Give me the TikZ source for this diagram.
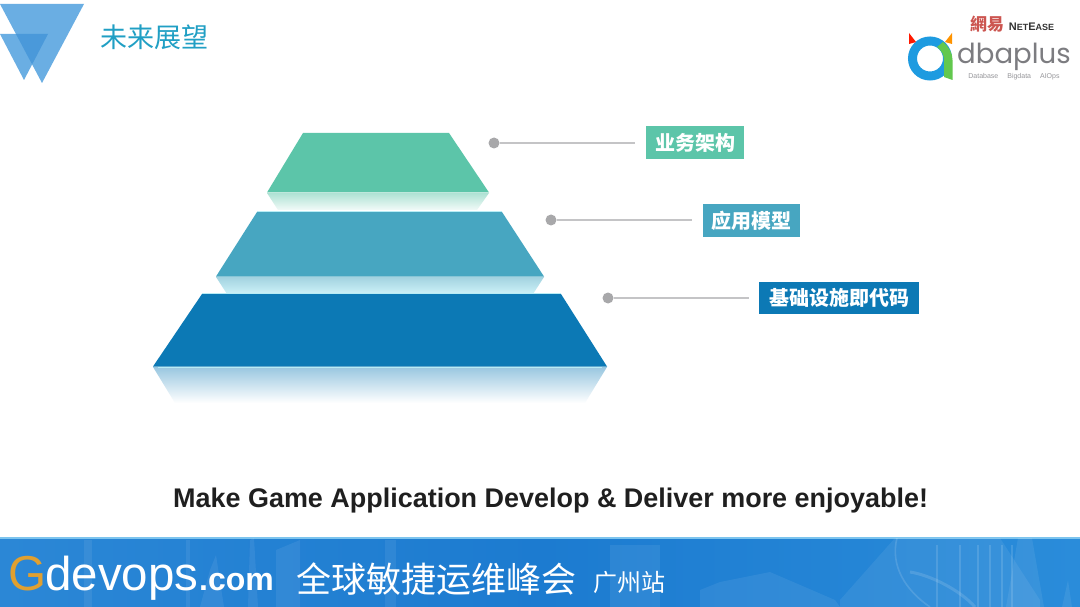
\documentclass[tikz,border=0pt]{standalone}
\usepackage{fontspec}
\setmainfont{Liberation Sans}
\newfontfamily\cjk{Noto Sans CJK SC}
\newfontfamily\cjktc{Noto Sans CJK TC}
\newfontfamily\popp{Poppins}
\definecolor{tealA}{HTML}{5CC5A9}
\definecolor{blueB}{HTML}{47A6C1}
\definecolor{blueC}{HTML}{0C79B5}
\definecolor{dotgrey}{HTML}{A8A8AA}
\definecolor{linegrey}{HTML}{C4C4C6}
\definecolor{triblue}{HTML}{6AAEE3}
\definecolor{trideep}{HTML}{4A99DA}
\definecolor{titlecol}{HTML}{209FC4}
\definecolor{bannerL}{HTML}{2B87D6}
\definecolor{bannerM}{HTML}{1C7BD0}
\definecolor{bannerR}{HTML}{2A8CDA}
\definecolor{bannerTop}{HTML}{7CC4EE}
\definecolor{glow}{HTML}{B8ECF5}
\definecolor{logoblue}{HTML}{1E9BE0}
\definecolor{logogreen}{HTML}{62C84E}
\definecolor{logogrey}{HTML}{7C7C80}
\definecolor{gold}{HTML}{E0A030}
\definecolor{wyred}{HTML}{CC5550}
\tikzset{
  tagbox/.style={minimum height=33pt,inner sep=0pt,text=white,font=\cjk\bfseries\fontsize{20}{20}\selectfont},
  dotnode/.style={circle,fill=dotgrey,minimum size=11pt,inner sep=0pt},
  leader/.style={draw=linegrey,line width=1.4pt},
  ghost/.style={fill=white,fill opacity=0.07,draw=none},
  ghostline/.style={draw=white,draw opacity=0.13,line width=1.6pt},
  glowline/.style={draw=glow,line width=1pt}
}
\begin{document}
\begin{tikzpicture}[x=1pt,y=-1pt]
\useasboundingbox (0,0) rectangle (1080,607);
\fill[white] (0,0) rectangle (1080,607);
% corner triangles
\fill[triblue] (0,4) -- (84,4) -- (42,83) -- cycle;
\fill[triblue] (0,34) -- (48,34) -- (24,80) -- cycle;
\begin{scope}
\clip (0,4) -- (84,4) -- (42,83) -- cycle;
\fill[trideep] (0,34) -- (48,34) -- (24,80) -- cycle;
\end{scope}
\node[anchor=center,text=titlecol,inner sep=0pt,font=\cjk\fontsize{27}{27}\selectfont] (title) at (154,37) {未来展望};
% pyramid reflections
\shade[top color=tealA!50!white,bottom color=tealA!8!white] (267,193) -- (489,193) -- (477,210) -- (278,210) -- cycle;
\shade[top color=blueB!50!white,bottom color=glow!70!white] (216,277) -- (544,277) -- (533,294) -- (227,294) -- cycle;
\shade[top color=blueC!42!white,bottom color=white] (153,367) -- (607,367) -- (585,403) -- (175,403) -- cycle;
% pyramid
\fill[tealA] (303,133) -- (449,133) -- (489,192.5) -- (267,192.5) -- cycle;
\fill[blueB] (257,212) -- (502,212) -- (544,276.5) -- (216,276.5) -- cycle;
\fill[blueC] (202,294) -- (561,294) -- (607,366.5) -- (153,366.5) -- cycle;
\draw[glowline] (257,211.5) -- (502,211.5);
\draw[glowline] (202,293.5) -- (561,293.5);
\draw[glowline] (158,367) -- (602,367);
% labels
\node[dotnode] (d1) at (494,143) {};
\node[dotnode] (d2) at (551,220) {};
\node[dotnode] (d3) at (608,298) {};
\node[tagbox,fill=tealA,minimum width=98pt] (t1) at (695,142.5) {业务架构};
\node[tagbox,fill=blueB,minimum width=97pt] (t2) at (751.5,220.5) {应用模型};
\node[tagbox,fill=blueC,minimum width=160pt,minimum height=32pt] (t3) at (839,298) {基础设施即代码};
\coordinate (e1) at (635,143);
\coordinate (e2) at (692,220);
\coordinate (e3) at (749,298);
\draw[leader] (d1) -- (e1);
\draw[leader] (d2) -- (e2);
\draw[leader] (d3) -- (e3);
% caption
\node[anchor=base west,inner sep=0pt,text=black!88,font=\bfseries\fontsize{26.95}{27}\selectfont] (cap) at (173,507) {Make Game Application Develop \& Deliver more enjoyable!};
% banner
\shade[left color=bannerL,right color=bannerM] (0,538) rectangle (540,607);
\shade[left color=bannerM,right color=bannerR] (540,538) rectangle (1080,607);
\fill[bannerTop] (0,537) rectangle (1080,538.5);
\begin{scope}
\clip (0,538.5) rectangle (1080,607);
% skyline
\fill[ghost] (84,540) rectangle (92,607);
\fill[ghost] (186,540) rectangle (190,607);
\fill[ghost] (210,570) -- (216,555) -- (224,607) -- (200,607) -- cycle;
\fill[ghost] (250,540) -- (254,538) -- (258,607) -- (248,607) -- cycle;
\fill[ghost] (276,550) -- (300,540) -- (300,607) -- (276,607) -- cycle;
\fill[ghost] (385,540) rectangle (396,607);
\fill[ghost] (610,545) rectangle (660,607);
\fill[ghost] (700,590) -- (720,582) -- (770,572) -- (835,600) -- (840,607) -- (700,607) -- cycle;
\fill[ghost] (840,600) -- (895,538) -- (1000,538) -- (1040,600) -- (1040,607) -- (840,607) -- cycle;
\draw[ghostline] (897,538) .. controls (890,565) and (905,590) .. (930,607);
\draw[ghostline,line width=3pt] (910,572) .. controls (930,575) and (960,590) .. (975,607);
\foreach \gx in {937,960,978,990,1002,1012}{\draw[ghostline] (\gx,545) -- (\gx,607);}
\fill[ghost] (1018,538) -- (1032,538) -- (1044,607) -- (1006,607) -- cycle;
\fill[ghost] (1062,607) -- (1068,580) -- (1072,607) -- cycle;
\end{scope}
% banner text
\node[anchor=base west,inner sep=0pt,text=gold,font=\fontsize{49}{49}\selectfont] (g) at (8,590) {G};
\node[anchor=base west,inner sep=0pt,text=white,font=\fontsize{47.5}{48}\selectfont] (dv) at (45,590) {devops};
\node[anchor=base west,inner sep=0pt,text=white,font=\bfseries\fontsize{32}{32}\selectfont] (com) at (199,590) {.com};
\node[anchor=center,inner sep=0pt,text=white,font=\cjk\fontsize{35}{35}\selectfont] (cn) at (436.5,579) {全球敏捷运维峰会};
\node[anchor=center,inner sep=0pt,text=white,font=\cjk\fontsize{24}{24}\selectfont] (gz) at (629,582) {广州站};
% logo
\node[anchor=center,inner sep=0pt,text=wyred,font=\cjktc\bfseries\fontsize{17}{17}\selectfont] (wy) at (987,24.5) {網易};
\node[anchor=center,inner sep=0pt,text=black!80,font=\bfseries\fontsize{11}{11}\selectfont] (ne) at (1031.5,27) {N{\fontsize{9}{9}\selectfont ET}E{\fontsize{9}{9}\selectfont ASE}};
\draw[logoblue,line width=9pt] (930,58.5) circle[radius=17.5];
\fill[logogreen] (943,42) .. controls (949,47) and (952.5,53) .. (952.5,60) -- (952.5,80) -- (944,77) -- (944,60) .. controls (944,55) and (942,51) .. (937,47) -- cycle;
\fill[red!80!orange] (909,33) -- (916,42) -- (909,44) -- cycle;
\fill[orange!85!yellow] (952,33) -- (945,42) -- (952,44) -- cycle;
\node[anchor=base west,inner sep=0pt,text=logogrey,font=\popp\fontsize{27.6}{28}\selectfont] (db) at (957,64) {dbaplus};
\node[anchor=center,inner sep=0pt,text=logogrey!80,font=\fontsize{7}{7}\selectfont] (dbs) at (1014,77) {Database\hspace{9pt}Bigdata\hspace{9pt}AIOps};
\end{tikzpicture}
\end{document}
